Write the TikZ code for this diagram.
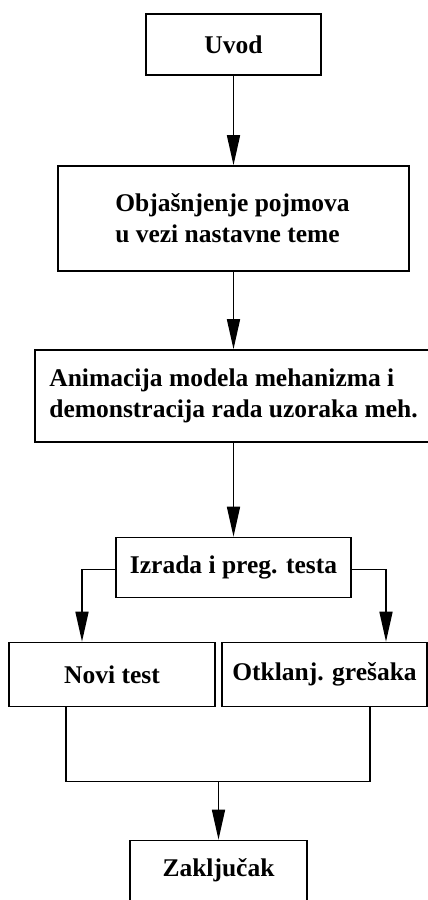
\documentclass[tikz,border=0pt]{standalone}
\usepackage{fontspec}
\setmainfont{Liberation Serif}
\usetikzlibrary{arrows.meta, positioning}

\begin{document}
\begin{tikzpicture}[
      x=1pt, y=1pt, on grid, line width=1.6pt, >={Triangle[length=30pt,width=13pt]},
      box/.style={draw, rectangle, inner sep=0pt, align=left,
        font=\fontsize{25.5}{31}\selectfont\bfseries},
      ]

      \useasboundingbox (0,0) rectangle (428,-900);
      \clip (0,0) rectangle (428,-900);

      \node[box, minimum width=175pt, minimum height=61pt]  (uvod) at (233.5,-44.5) {Uvod};
      \node[box, minimum width=351pt, minimum height=105pt] (pojm) [below=174pt of uvod]
            {Objašnjenje pojmova\\u vezi nastavne teme\hspace*{12pt}};
      \node[box, minimum width=397pt, minimum height=92pt]  (anim) [below=177.5pt of pojm]
            {Animacija modela mehanizma i\\demonstracija rada uzoraka meh.};
      \node[box, minimum width=235pt, minimum height=60pt]  (izr)  [below=171.5pt of anim]
            {Izrada i preg. testa};
      \node[box, minimum width=206pt, minimum height=64pt]  (novi) [below left=107pt and 121.5pt of izr]
            {Novi test};
      \node[box, minimum width=205pt, minimum height=64pt]  (otkl) [below right=107pt and 91pt of izr]
            {Otklanj. grešaka};
      \node[box, minimum width=177pt, minimum height=60pt]  (zakl) [below left=303pt and 15pt of izr]
            {Zaključak};
      \node[coordinate, above=89pt of zakl] (join) {};

      \draw[->] (uvod) -- (pojm);
      \draw[->] (pojm) -- (anim);
      \draw[->] (anim) -- (izr);
      \draw[->] ([yshift=-2pt]izr.west) -| ([xshift=-30pt]novi.north);
      \draw[->] ([yshift=-2pt]izr.east) -| ([xshift=61.5pt]otkl.north);
      \draw ([xshift=-46pt]novi.south) |- (join) -| ([xshift=45.5pt]otkl.south);
      \draw[->] (join) -- (zakl);
    \end{tikzpicture}
\end{document}
